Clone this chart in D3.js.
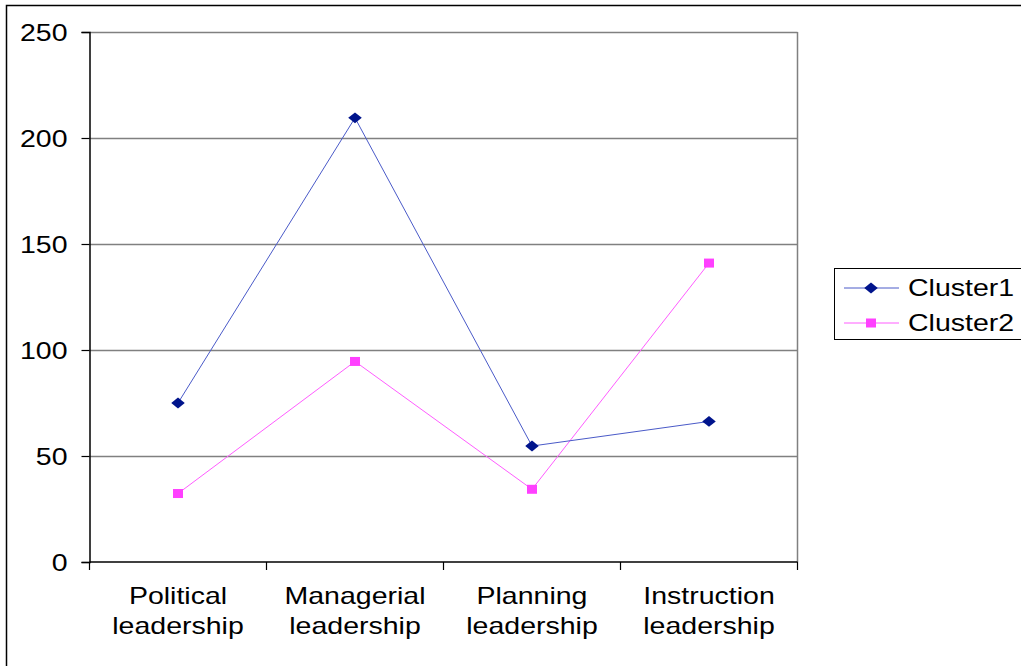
<!DOCTYPE html>
<html>
<head>
<meta charset="utf-8">
<script src="https://cdn.jsdelivr.net/npm/d3@7"></script>
<style>
  html, body { margin: 0; padding: 0; background: #fff; }
  svg { display: block; font-family: "Liberation Sans", Arial, sans-serif; }
</style>
</head>
<body>
<svg id="chart" width="1021" height="666"></svg>
<script>
// Leadership dimensions and the score of each cluster
const categories = [["Political", "leadership"], ["Managerial", "leadership"], ["Planning", "leadership"], ["Instruction", "leadership"]];
const cluster1 = [75, 209.5, 54.7, 66.3];
const cluster2 = [32.3, 94.6, 34.3, 141];
const yTicks = [0, 50, 100, 150, 200, 250];
const seriesNames = ["Cluster1", "Cluster2"];

const svg = d3.select("#chart");
const plot = { left: 89.5, right: 797.5, top: 32, bottom: 562 };
const FONT = 23;      // text size
const WIDEN = 1.24;   // horizontal widening of the lettering

// outer frame (right and bottom run off the page)
svg.append("rect")
  .attr("x", 6.5).attr("y", 5.5)
  .attr("width", 1100).attr("height", 700)
  .attr("fill", "#fff").attr("stroke", "#000").attr("stroke-width", 1.5);

const x = d3.scaleBand().domain(d3.range(categories.length))
  .range([plot.left, plot.right]).paddingInner(0).paddingOuter(0);
const y = d3.scaleLinear().domain([0, 250]).range([plot.bottom, plot.top]);

// gridlines
svg.append("g").selectAll("line").data(yTicks.filter(d => d > 0)).join("line")
  .attr("x1", plot.left).attr("x2", plot.right)
  .attr("y1", d => Math.round(y(d)) + 0.5).attr("y2", d => Math.round(y(d)) + 0.5)
  .attr("stroke", "#808080").attr("stroke-width", 1.5);

// plot area right border
svg.append("line")
  .attr("x1", plot.right).attr("x2", plot.right)
  .attr("y1", plot.top).attr("y2", plot.bottom)
  .attr("stroke", "#808080").attr("stroke-width", 1.5);

// y axis
const yAxis = d3.axisLeft(y).tickValues(yTicks).tickSize(8);
const gy = svg.append("g").attr("transform", `translate(${plot.left},0)`).call(yAxis);
gy.select(".domain").attr("stroke", "#000").attr("stroke-width", 1.5);
gy.selectAll(".tick line").attr("stroke", "#000").attr("stroke-width", 1.2);
gy.selectAll(".tick text")
  .attr("x", 0).attr("dy", "0.35em")
  .attr("transform", `translate(-22,0) scale(${WIDEN},1)`)
  .attr("font-size", FONT).attr("fill", "#000")
  .attr("font-family", "'Liberation Sans', Arial, sans-serif");

// x axis with ticks at category boundaries
svg.append("line")
  .attr("x1", plot.left).attr("x2", plot.right)
  .attr("y1", plot.bottom).attr("y2", plot.bottom)
  .attr("stroke", "#000").attr("stroke-width", 1.5);
const bounds = d3.range(categories.length + 1).map(i => plot.left + i * x.bandwidth());
svg.append("g").selectAll("line").data(bounds).join("line")
  .attr("x1", d => d).attr("x2", d => d)
  .attr("y1", plot.bottom).attr("y2", plot.bottom + 8)
  .attr("stroke", "#000").attr("stroke-width", 1.2);

const labels = svg.append("g").selectAll("text").data(categories).join("text")
  .attr("text-anchor", "middle").attr("font-size", FONT).attr("fill", "#000")
  .attr("transform", (d, i) => `translate(${x(i) + x.bandwidth() / 2},0) scale(${WIDEN},1)`);
labels.each(function (d) {
  const t = d3.select(this);
  d.forEach((line, j) => {
    t.append("tspan").attr("x", 0).attr("y", 604 + j * 30).text(line);
  });
});

const cx = i => x(i) + x.bandwidth() / 2;
const line = d3.line().x((d, i) => cx(i)).y(d => y(d));

// Cluster2 (magenta, squares)
svg.append("path").datum(cluster2).attr("d", line)
  .attr("fill", "none").attr("stroke", "#ff5cff").attr("stroke-width", 1);
svg.append("g").selectAll("rect").data(cluster2).join("rect")
  .attr("x", (d, i) => cx(i) - 5).attr("y", d => y(d) - 4.5)
  .attr("width", 10).attr("height", 9).attr("fill", "#ff40ff");

// Cluster1 (navy, diamonds)
svg.append("path").datum(cluster1).attr("d", line)
  .attr("fill", "none").attr("stroke", "#4a5ac8").attr("stroke-width", 1);
const diamond = d3.symbol().type(d3.symbolDiamond2).size(75);
svg.append("g").selectAll("path").data(cluster1).join("path")
  .attr("d", diamond)
  .attr("transform", (d, i) => `translate(${cx(i)},${y(d)}) scale(1.25,1)`)
  .attr("fill", "#00148c");

// legend
const lg = svg.append("g");
lg.append("rect").attr("x", 834.5).attr("y", 268.5).attr("width", 200).attr("height", 71)
  .attr("fill", "#fff").attr("stroke", "#000").attr("stroke-width", 1);
const items = [
  { name: seriesNames[0], color: "#4a5ac8", fill: "#00148c", shape: "diamond" },
  { name: seriesNames[1], color: "#ff5cff", fill: "#ff40ff", shape: "square" }
];
items.forEach((it, i) => {
  const yy = 288 + i * 35;
  lg.append("line").attr("x1", 844).attr("x2", 899).attr("y1", yy).attr("y2", yy)
    .attr("stroke", it.color).attr("stroke-width", 1);
  if (it.shape === "diamond") {
    lg.append("path").attr("d", diamond)
      .attr("transform", `translate(871,${yy}) scale(1.25,1)`).attr("fill", it.fill);
  } else {
    lg.append("rect").attr("x", 866).attr("y", yy - 4.5).attr("width", 10).attr("height", 9)
      .attr("fill", it.fill);
  }
  lg.append("text").attr("x", 0).attr("y", 0).attr("font-size", FONT)
    .attr("transform", `translate(908,${yy + 8}) scale(${WIDEN},1)`)
    .attr("fill", "#000").text(it.name);
});
</script>
</body>
</html>
